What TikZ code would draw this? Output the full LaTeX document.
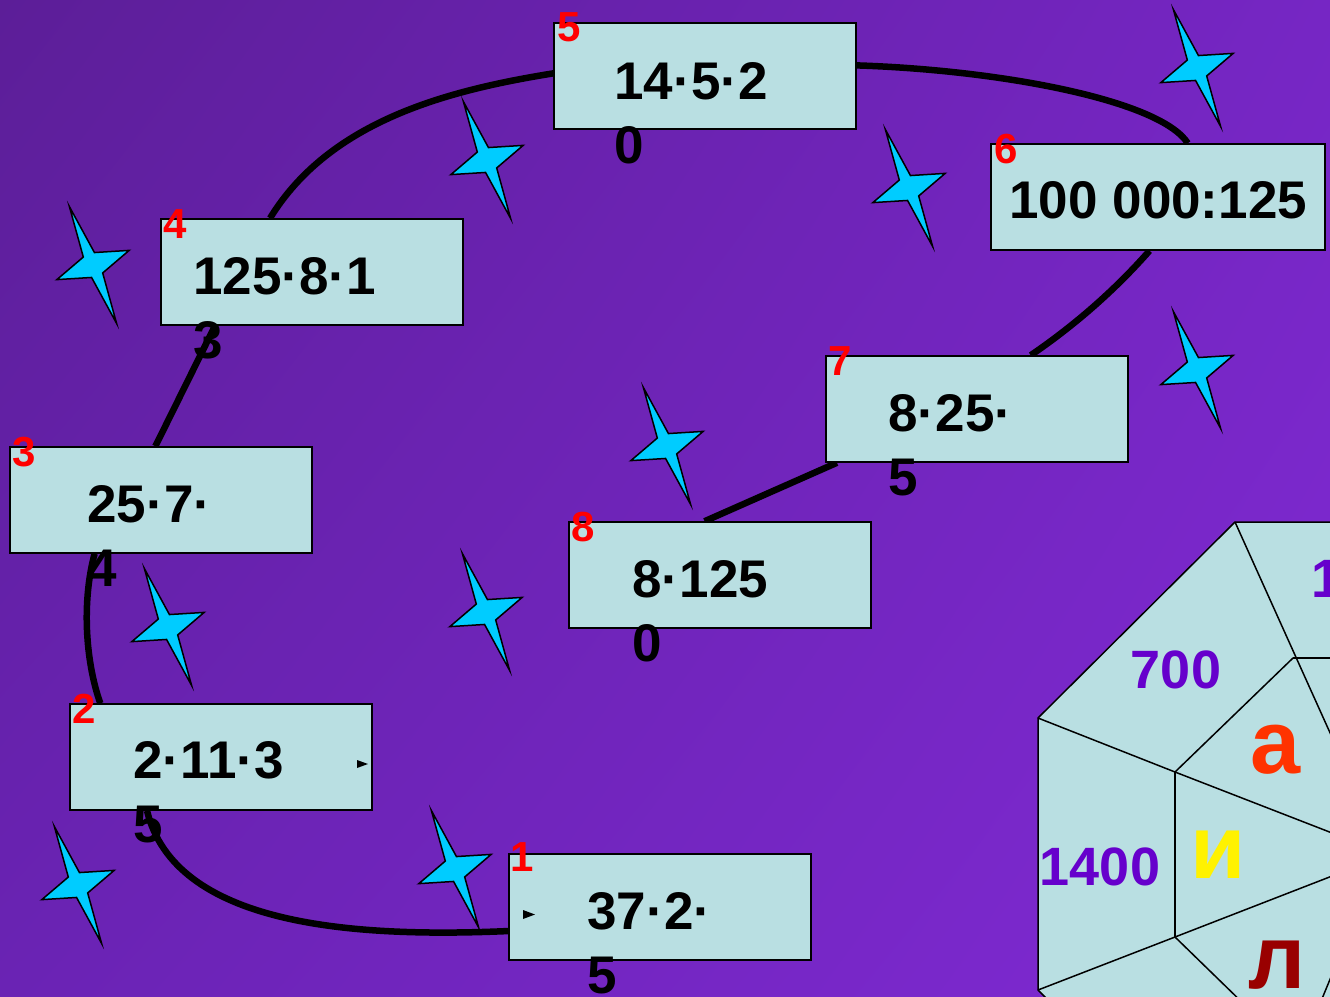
\documentclass[tikz,border=0pt]{standalone}
\usepackage{fontspec}
\setmainfont{Liberation Sans}
\usetikzlibrary{shadings}
\definecolor{boxfill}{RGB}{185,223,226}
\definecolor{starfill}{RGB}{0,204,255}
\definecolor{tagred}{RGB}{255,0,0}
\definecolor{cellviolet}{RGB}{102,0,204}
\definecolor{letterred}{RGB}{255,51,0}
\definecolor{letterbrown}{RGB}{153,0,0}
\definecolor{bgUL}{RGB}{92,30,152}
\definecolor{bgUR}{RGB}{118,38,196}
\definecolor{bgLL}{RGB}{106,35,180}
\definecolor{bgLR}{RGB}{128,42,212}
\pgfdeclarelayer{back}
\pgfdeclarelayer{mid}
\pgfsetlayers{back,mid,main}

\begin{document}
\begin{tikzpicture}[x=1pt,y=1pt,
  box/.style={draw=black,line width=1.5pt,fill=boxfill,minimum width=302pt,minimum height=106pt},
  expr/.style={font=\fontsize{53}{64}\selectfont\bfseries,align=left,anchor=base west},
  tag/.style={font=\fontsize{42}{42}\selectfont\bfseries,text=tagred,anchor=base west},
  link/.style={line width=6.5pt},
  cell/.style={line width=1.5pt},
  cellnum/.style={font=\fontsize{54}{54}\selectfont\bfseries,text=cellviolet,anchor=base},
  letter/.style={font=\fontsize{90}{90}\selectfont\bfseries,anchor=base},
  spark/.pic={\filldraw[fill=starfill,draw=black,line width=1.5pt,rotate=22]
    (0,63) -- (6,11) -- (39,0) -- (6,-11) -- (0,-63) -- (-6,-11) -- (-39,0) -- (-6,11) -- cycle;}]
  \tikzstyle{every node}+=[inner sep=0pt]
  \useasboundingbox (0,0) rectangle (1330,-996);
  \begin{pgfonlayer}{back}
    \shade[upper left=bgUL,upper right=bgUR,lower left=bgLL,lower right=bgLR] (0,0) rectangle (1330,-996);
  \end{pgfonlayer}

  \node[box] (b1) at (660,-907) {};
  \node[box] (b2) at (221,-757) {};
  \node[box] (b3) at (161,-500) {};
  \node[box] (b4) at (312,-272) {};
  \node[box] (b5) at (705,-76) {};
  \node[box,minimum width=334pt] (b6) at (1158,-197) {};
  \node[box] (b7) at (977,-409) {};
  \node[box] (b8) at (720,-575) {};

  \begin{pgfonlayer}{mid}
    \draw[link] (b1.189) .. controls (350,-938) and (175,-925) .. (b2.216);
    \draw[link] (b2.156) .. controls (85,-660) and (82,-600) .. (b3.219);
    \draw[link] (b3.96) -- (b4.209);
    \draw[link] (b4.128) .. controls (330,-120) and (450,-90) .. (b5.179);
    \draw[link] (b5.4) .. controls (1000,-70) and (1160,-100) .. (b6.61);
    \draw[link] (b6.261) .. controls (1115,-290) and (1075,-325) .. (b7.45);
    \draw[link] (b7.201) -- (b8.106);
  \end{pgfonlayer}

  \node[tag] at ([shift={(2,-18)}]b1.north west) {1};
  \node[expr] at ([shift={(79,-140)}]b1.north west) {37·2·\\5};
  \node[tag] at ([shift={(3,-20)}]b2.north west) {2};
  \node[expr] at ([shift={(64,-139)}]b2.north west) {2·11·3\\5};
  \node[tag] at ([shift={(3,-20)}]b3.north west) {3};
  \node[expr] at ([shift={(78,-140)}]b3.north west) {25·7·\\4};
  \node[tag] at ([shift={(3,-20)}]b4.north west) {4};
  \node[expr] at ([shift={(33,-140)}]b4.north west) {125·8·1\\3};
  \node[tag] at ([shift={(4,-19)}]b5.north west) {5};
  \node[expr] at ([shift={(61,-141)}]b5.north west) {14·5·2\\0};
  \node[tag] at ([shift={(4,-20)}]b6.north west) {6};
  \node[expr] at ([shift={(19,-75)}]b6.north west) {100 000:125};
  \node[tag] at ([shift={(3,-20)}]b7.north west) {7};
  \node[expr] at ([shift={(63,-140)}]b7.north west) {8·25·\\5};
  \node[tag] at ([shift={(3,-20)}]b8.north west) {8};
  \node[expr] at ([shift={(64,-140)}]b8.north west) {8·125\\0};

  \fill (357,-760) -- (368,-764) -- (357,-768) -- cycle;
  \fill (523,-910) -- (535,-914.5) -- (523,-919) -- cycle;

  \foreach \sx/\sy [count=\i] in {487/160,909/188,1197/68,93/265,1197/370,667/446,168/627,486/612,78/885,455/869}
    \pic (s\i) at (\sx,-\sy) {spark};

  \filldraw[cell,fill=boxfill] (1235,-522) -- (1345,-522) -- (1345,-1010) -- (1052,-1004) -- (1038,-990) -- (1038,-718) -- cycle;
  \draw[cell] (1235,-522) -- (1345,-766);
  \draw[cell] (1293,-658) -- (1345,-658);
  \draw[cell] (1293,-658) -- (1175,-772) -- (1038,-718);
  \draw[cell] (1175,-772) -- (1175,-937);
  \draw[cell] (1175,-772) -- (1345,-838);
  \draw[cell] (1038,-990) -- (1175,-937) -- (1345,-871);
  \draw[cell] (1175,-937) -- (1250,-1010);
  \draw[cell] (1338,-960) -- (1319,-1006);
  \node[cellnum] (n700) at (1176,-688) {700};
  \node[cellnum] (n1400) at (1100,-885) {1400};
  \node[cellnum,anchor=base west] (n1) at (1311,-597) {1};
  \node[letter,text=letterred] (la) at (1276,-773) {а};
  \node[letter,text=yellow] (li) at (1218,-878) {и};
  \node[letter,text=letterbrown] (ll) at (1277,-988) {л};
\end{tikzpicture}
\end{document}
